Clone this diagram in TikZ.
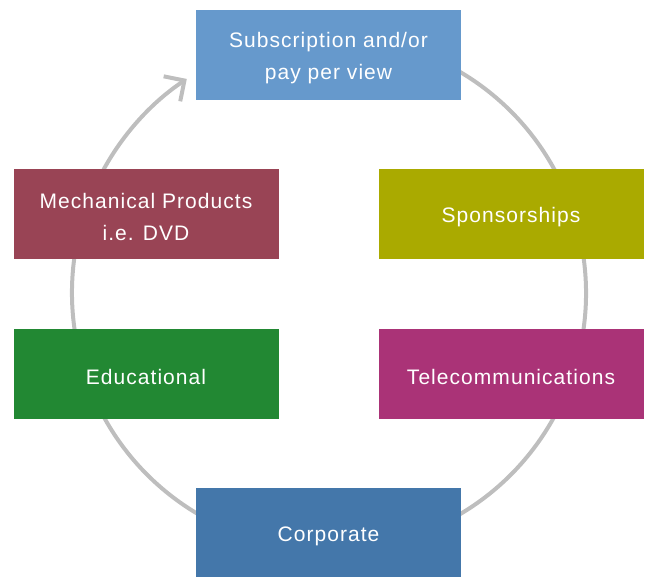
\documentclass[tikz,border=0pt]{standalone}
\usepackage{fontspec}
\setmainfont{Liberation Sans}[LetterSpace=5]
\usetikzlibrary{arrows.meta,calc}
\definecolor{cTop}{HTML}{6699CC}
\definecolor{cMech}{HTML}{994455}
\definecolor{cSpon}{HTML}{AAAA00}
\definecolor{cEdu}{HTML}{228833}
\definecolor{cTel}{HTML}{AA3377}
\definecolor{cCorp}{HTML}{4477AA}
\definecolor{cRing}{HTML}{BEBEBE}
\tikzset{
  box/.style={draw=none, minimum width=265pt, minimum height=90pt, inner sep=0pt,
    text=white, font=\fontsize{21}{32}\selectfont, align=center},
  lbl/.style={text=white, font=\fontsize{21}{32}\selectfont, align=center, inner sep=0pt},
  ring/.style={draw=cRing, line width=4pt}
}
\begin{document}
\begin{tikzpicture}[x=1pt,y=-1pt]
\useasboundingbox (0,0) rectangle (645,576);
\coordinate (c) at (329,293);
\draw[ring, -{Straight Barb[length=15pt,width=30pt]}] ($(c)+(-60:257)$) arc[start angle=-60, end angle=236.4, radius=257];
\node[box, fill=cTop] (sub) at (328.5,55) {};
\node[box, fill=cMech] (mech) at (146,214) {};
\node[box, fill=cSpon] (spon) at (511,214) {};
\node[box, fill=cEdu] (edu) at (146,374) {};
\node[box, fill=cTel] (tel) at (511,374) {};
\node[box, fill=cCorp] (corp) at (328.5,533) {};
\node[lbl] (tsub) at ($(sub)+(0,3)$) {Subscription and/or\\pay per view};
\node[lbl] (tmech) at ($(mech)+(0,3)$) {Mechanical Products\\i.e. DVD};
\node[lbl] (tspon) at ($(spon)+(0,3)$) {Sponsorships};
\node[lbl] (tedu) at ($(edu)+(0,3)$) {Educational};
\node[lbl] (ttel) at ($(tel)+(0,3)$) {Telecommunications};
\node[lbl] (tcorp) at ($(corp)+(0,3)$) {Corporate};
\end{tikzpicture}
\end{document}
